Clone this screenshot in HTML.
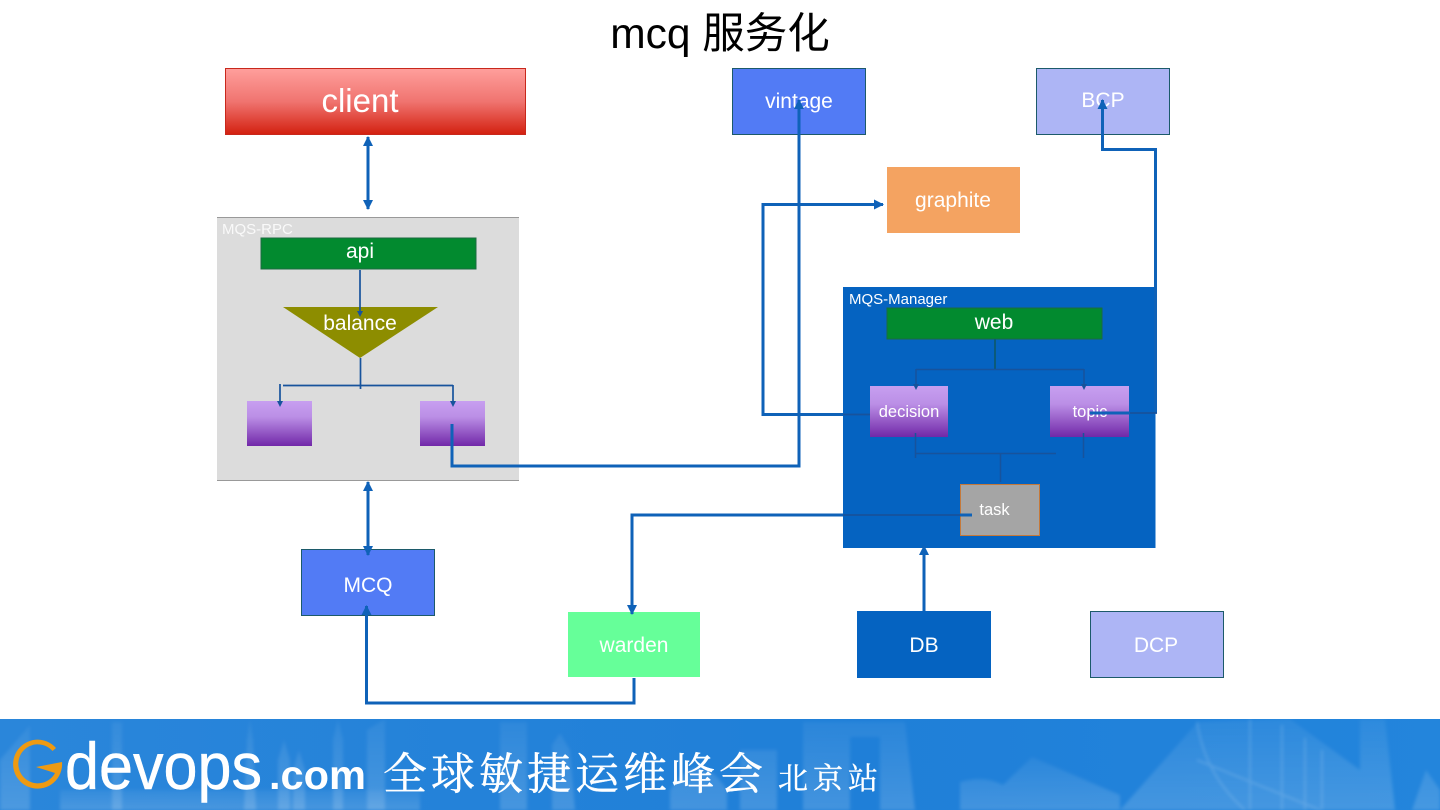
<!DOCTYPE html>
<html><head><meta charset="utf-8"><style>
html,body{margin:0;padding:0;background:#fff;width:1440px;height:810px;overflow:hidden}
svg{display:block}
text{font-family:"Liberation Sans","Noto Sans CJK SC",sans-serif;fill:#fff;text-anchor:middle}
</style></head><body>
<svg width="1440" height="810" viewBox="0 0 1440 810" xmlns="http://www.w3.org/2000/svg">
<defs>
<linearGradient id="red" x1="0" y1="0" x2="0" y2="1"><stop offset="0" stop-color="#ff9f9c"/><stop offset="0.5" stop-color="#f07470"/><stop offset="1" stop-color="#d3200f"/></linearGradient>
<linearGradient id="pur" x1="0" y1="0" x2="0" y2="1"><stop offset="0" stop-color="#c79ff0"/><stop offset="0.35" stop-color="#bb8fe6"/><stop offset="1" stop-color="#7128a8"/></linearGradient>
<linearGradient id="foot" x1="0" y1="0" x2="1" y2="0"><stop offset="0" stop-color="#2a86da"/><stop offset="0.6" stop-color="#1f7fd8"/><stop offset="1" stop-color="#2385dc"/></linearGradient>
<linearGradient id="fade" x1="0" y1="0" x2="0" y2="1"><stop offset="0" stop-color="#fff" stop-opacity=".05"/><stop offset="1" stop-color="#fff" stop-opacity=".16"/></linearGradient>
<filter id="b" x="-5%" y="-5%" width="110%" height="110%"><feGaussianBlur stdDeviation="1.500"/></filter>
<marker id="a" viewBox="0 0 10 10" refX="9" refY="5" markerWidth="3.4" markerHeight="3.4" orient="auto-start-reverse"><path d="M0 0L10 5L0 10z" fill="#0f62b8"/></marker>
</defs>
<rect width="1440" height="810" fill="#fff"/>
<text x="720" y="48" font-size="42.500" style="fill:#000">mcq 服务化</text>

<rect x="225.500" y="68.500" width="300" height="66" fill="url(#red)" stroke="#c8281c"/>
<text x="360" y="112" font-size="33">client</text>

<rect x="217" y="217" width="302" height="264" fill="#dcdcdc"/>
<path d="M217 217.500H519M217 480.500H519" stroke="#999" fill="none"/>
<text x="222" y="234" font-size="15" style="text-anchor:start" opacity=".85">MQS-RPC</text>
<rect x="261" y="238" width="215" height="31" fill="#028a2f" stroke="#1c6b40"/>
<text x="360" y="258" font-size="21">api</text>
<path d="M283 307H438L360 358z" fill="#8d8d00"/>
<text x="360" y="330" font-size="21">balance</text>
<rect x="247" y="401" width="65" height="45" fill="url(#pur)"/>
<rect x="420" y="401" width="65" height="45" fill="url(#pur)"/>
<path d="M360 270V313M360.500 358V389M283 385.500H453" stroke="#17539c" stroke-width="1.700" fill="none"/>
<path d="M280 384V403M453 385V403" stroke="#17539c" stroke-width="1.700" fill="none"/>
<path d="M277 401L280 407L283 401zM450 401L453 407L456 401zM357 311L360 317L363 311z" fill="#17539c"/>

<rect x="732.500" y="68.500" width="133" height="66" fill="#527bf5" stroke="#1c5a6a"/>
<text x="799" y="108" font-size="21">vintage</text>
<rect x="1036.500" y="68.500" width="133" height="66" fill="#adb5f5" stroke="#1c5a6a"/>
<text x="1103" y="107" font-size="21">BCP</text>
<rect x="887" y="167" width="133" height="66" fill="#f4a361"/>
<text x="953" y="207" font-size="21">graphite</text>

<rect x="843" y="287" width="312.500" height="261" fill="#0563c1"/>
<path d="M1155.500 287V413" stroke="#0f62b8" stroke-width="3" fill="none"/>
<text x="849" y="304" font-size="15" style="text-anchor:start">MQS-Manager</text>
<rect x="887" y="308" width="215" height="31" fill="#028a2f" stroke="#1c6b40"/>
<text x="994" y="329" font-size="21">web</text>
<rect x="870" y="386" width="78" height="51" fill="url(#pur)"/>
<rect x="1050" y="386" width="79" height="51" fill="url(#pur)"/>
<text x="909" y="417" font-size="16.500">decision</text>
<text x="1090" y="417" font-size="16.500">topic</text>
<rect x="960.500" y="484.500" width="79" height="51" fill="#a5a5a5" stroke="#c5793a"/>
<text x="994.500" y="515" font-size="16.500">task</text>
<path d="M995 339V369" stroke="#0b5a7a" stroke-width="2" fill="none"/>
<path d="M916 369.500H1084M916 369V385M1084 369V385" stroke="#17539c" stroke-width="1.500" fill="none"/>
<path d="M913 384L916 390L919 384zM1081 384L1084 390L1087 384z" fill="#17539c"/>
<path d="M915.500 433V458M1083.500 433V458M916 453.500H1056M1000.500 453V482" stroke="#17539c" stroke-width="1.500" fill="none"/>

<rect x="301.500" y="549.500" width="133" height="66" fill="#527bf5" stroke="#1c5a6a"/>
<text x="368" y="592" font-size="21">MCQ</text>
<rect x="568" y="612" width="132" height="65" fill="#66ff99"/>
<text x="634" y="652" font-size="21">warden</text>
<rect x="857" y="611" width="134" height="67" fill="#0563c1"/>
<text x="924" y="652" font-size="21">DB</text>
<rect x="1090.500" y="611.500" width="133" height="66" fill="#adb5f5" stroke="#1c5a6a"/>
<text x="1156" y="652" font-size="21">DCP</text>

<g fill="none" stroke="#0f62b8" stroke-width="3" stroke-linejoin="miter">
<path d="M368 137V209" marker-start="url(#a)" marker-end="url(#a)"/>
<path d="M368 482V555" marker-start="url(#a)" marker-end="url(#a)"/>
<path d="M924 546V611" marker-start="url(#a)"/>
<path d="M452 424V466H799V100" marker-end="url(#a)"/>
<path d="M843 414.500H763V204.500H883" marker-end="url(#a)"/>
<path d="M1155.500 287V149.500H1102.500V100" marker-end="url(#a)"/>
<path d="M1090 413H1130"/>
<path d="M843 515H632V614" marker-end="url(#a)"/>
<path d="M960 515H972"/>
<path d="M634 678V703H366.500V606" marker-end="url(#a)"/>
</g>
<path d="M843 414.500H870M1130 413H1157M843 515H960" stroke="#17539c" stroke-width="1.800" fill="none"/>

<rect x="0" y="719" width="1440" height="91" fill="url(#foot)"/>
<g fill="url(#fade)" filter="url(#b)">
<path d="M0 760L30 725V810H0z"/>
<path d="M112 722H122V810H112zM247 740L250 719L253 740L256 810H244zM278 760L284 740L290 760V810H278zM293 770L299 750L305 770V810H293zM333 740L338 719L343 740V810H333zM367 730L385 719V810H367z"/>
<path d="M60 790H420V810H60z"/>
<path d="M500 722H527V810H500zM552 745L560 733L570 750L575 810H552zM670 790Q698 745 727 790V810H670zM740 750H777V810H740z"/>
<path d="M803 722H905L915 810H880V737H850V810H803z"/>
<path d="M960 782Q985 775 1003 785V810H960zM1003 785L1032 757L1120 795V810H1003z"/>
<path d="M1120 810L1198 722L1290 719L1360 770V810z"/>
<path d="M1360 719H1385L1395 810H1360zM1412 810L1426 770L1440 790V810z"/>
</g>
<g stroke="#fff" fill="none" opacity="0.14" stroke-width="2" filter="url(#b)">
<path d="M1250 719V810M1282 725V810M1305 738V810M1322 750V810M1197 760L1320 810M1197 722Q1205 775 1245 810"/>
</g>
<path d="M56 748A24.500 24.500 0 1 0 62 762L36 767L55 773A19.500 19.500 0 1 1 52.500 751z" fill="#ee9a12"/>
<text x="65" y="789" font-size="66" style="text-anchor:start;stroke:#fff;stroke-width:.5" textLength="197" lengthAdjust="spacingAndGlyphs">devops</text>
<text x="269" y="789" font-size="41" font-weight="bold" style="text-anchor:start" textLength="97" lengthAdjust="spacingAndGlyphs">.com</text>
<text x="383" y="789" style="text-anchor:start;font-family:'Noto Serif CJK SC','Liberation Serif',serif;stroke:#fff;stroke-width:.4" font-size="44" textLength="380">全球敏捷运维峰会</text>
<text x="778" y="789" style="text-anchor:start;font-family:'Noto Serif CJK SC','Liberation Serif',serif;stroke:#fff;stroke-width:.4" font-size="30" textLength="100">北京站</text>
</svg>
</body></html>
